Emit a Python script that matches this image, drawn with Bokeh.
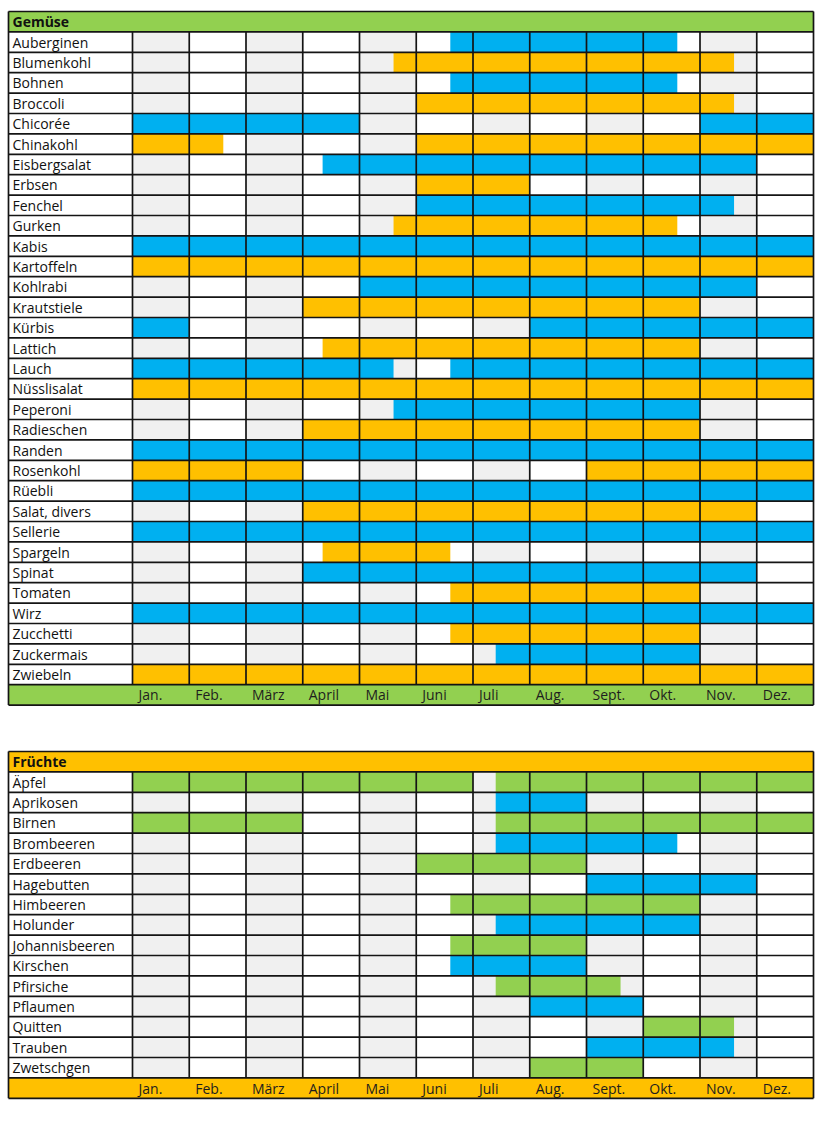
from bokeh.plotting import figure
from bokeh.models import Range1d, ColumnDataSource
from bokeh.embed import file_html
from bokeh.resources import INLINE
from bokeh.core.properties import value

# ---------------- data ----------------
months = ["Jan.", "Feb.", "März", "April", "Mai", "Juni",
          "Juli", "Aug.", "Sept.", "Okt.", "Nov.", "Dez."]

veg_title = "Gemüse"
veg_names = ["Auberginen", "Blumenkohl", "Bohnen", "Broccoli", "Chicorée",
             "Chinakohl", "Eisbergsalat", "Erbsen", "Fenchel", "Gurken",
             "Kabis", "Kartoffeln", "Kohlrabi", "Krautstiele", "Kürbis",
             "Lattich", "Lauch", "Nüsslisalat", "Peperoni", "Radieschen",
             "Randen", "Rosenkohl", "Rüebli", "Salat, divers", "Sellerie",
             "Spargeln", "Spinat", "Tomaten", "Wirz", "Zucchetti",
             "Zuckermais", "Zwiebeln"]
# season periods: (start month, end month, kind); months counted from 0 = start of Jan.
veg_periods = [
    [(5.6, 9.6, "b")],                  # Auberginen
    [(4.6, 10.6, "o")],                 # Blumenkohl
    [(5.6, 9.6, "b")],                  # Bohnen
    [(5.0, 10.6, "o")],                 # Broccoli
    [(0.0, 4.0, "b"), (10.0, 12.0, "b")],  # Chicorée
    [(0.0, 1.6, "o"), (5.0, 12.0, "o")],   # Chinakohl
    [(3.35, 11.0, "b")],                # Eisbergsalat
    [(5.0, 7.0, "o")],                  # Erbsen
    [(5.0, 10.6, "b")],                 # Fenchel
    [(4.6, 9.6, "o")],                  # Gurken
    [(0.0, 12.0, "b")],                 # Kabis
    [(0.0, 12.0, "o")],                 # Kartoffeln
    [(4.0, 11.0, "b")],                 # Kohlrabi
    [(3.0, 10.0, "o")],                 # Krautstiele
    [(0.0, 1.0, "b"), (7.0, 12.0, "b")],   # Kürbis
    [(3.35, 10.0, "o")],                # Lattich
    [(0.0, 4.6, "b"), (5.6, 12.0, "b")],   # Lauch
    [(0.0, 12.0, "o")],                 # Nüsslisalat
    [(4.6, 10.0, "b")],                 # Peperoni
    [(3.0, 10.0, "o")],                 # Radieschen
    [(0.0, 12.0, "b")],                 # Randen
    [(0.0, 3.0, "o"), (8.0, 12.0, "o")],   # Rosenkohl
    [(0.0, 12.0, "b")],                 # Rüebli
    [(3.0, 11.0, "o")],                 # Salat, divers
    [(0.0, 12.0, "b")],                 # Sellerie
    [(3.35, 5.6, "o")],                 # Spargeln
    [(3.0, 11.0, "b")],                 # Spinat
    [(5.6, 10.0, "o")],                 # Tomaten
    [(0.0, 12.0, "b")],                 # Wirz
    [(5.6, 10.0, "o")],                 # Zucchetti
    [(6.4, 10.0, "b")],                 # Zuckermais
    [(0.0, 12.0, "o")],                 # Zwiebeln
]

fruit_title = "Früchte"
fruit_names = ["Äpfel", "Aprikosen", "Birnen", "Brombeeren", "Erdbeeren",
               "Hagebutten", "Himbeeren", "Holunder", "Johannisbeeren",
               "Kirschen", "Pfirsiche", "Pflaumen", "Quitten", "Trauben",
               "Zwetschgen"]
fruit_periods = [
    [(0.0, 6.0, "g"), (6.4, 12.0, "g")],   # Äpfel
    [(6.4, 8.0, "b")],                  # Aprikosen
    [(0.0, 3.0, "g"), (6.4, 12.0, "g")],   # Birnen
    [(6.4, 9.6, "b")],                  # Brombeeren
    [(5.0, 8.0, "g")],                  # Erdbeeren
    [(8.0, 11.0, "b")],                 # Hagebutten
    [(5.6, 10.0, "g")],                 # Himbeeren
    [(6.4, 10.0, "b")],                 # Holunder
    [(5.6, 8.0, "g")],                  # Johannisbeeren
    [(5.6, 8.0, "b")],                  # Kirschen
    [(6.4, 8.6, "g")],                  # Pfirsiche
    [(7.0, 9.0, "b")],                  # Pflaumen
    [(9.0, 10.6, "g")],                 # Quitten
    [(8.0, 10.6, "b")],                 # Trauben
    [(7.0, 9.0, "g")],                  # Zwetschgen
]

# ---------------- style ----------------
KIND_COLORS = {"b": "#00B0F0", "o": "#FFC000", "g": "#92D050"}
GREEN = "#92D050"
ORANGE = "#FFC000"
STRIPE = ["#F0F0F0", "#FFFFFF"]
LINE = "#141414"
FONT = value("Open Sans")

W, H = 822, 1115
PXM = 56.75          # px per month
MONTH0_PX = 132      # x pixel of start of January
TABLE_LEFT_PX = 8
ROW = 20.4           # px per row
XL = -(MONTH0_PX - TABLE_LEFT_PX) / PXM   # left edge of table in month units
Y_TOP = -11 / ROW
Y_BOT = Y_TOP + H / ROW
LOWER_TOP = (751 - 11) / ROW

p = figure(width=W, height=H, output_backend="svg", toolbar_location=None,
           x_range=Range1d(-MONTH0_PX / PXM, (W - MONTH0_PX) / PXM),
           y_range=Range1d(Y_BOT, Y_TOP),
           x_axis_type=None, y_axis_type=None, min_border=0)
p.grid.visible = False
p.outline_line_color = None
p.background_fill_color = "white"
p.border_fill_color = "white"


def draw_table(top, title, names, periods, band_color):
    n = len(names)
    r0 = top + 1
    r1 = r0 + n
    # header and footer bands
    p.quad(left=[XL, XL], right=[12, 12], top=[top, r1], bottom=[r0, r1 + 1],
           fill_color=band_color, line_color=None)
    # label column
    p.quad(left=[XL], right=[0], top=[r0], bottom=[r1], fill_color="white", line_color=None)
    # month stripes
    p.quad(left=list(range(12)), right=[i + 1 for i in range(12)],
           top=[r0] * 12, bottom=[r1] * 12,
           fill_color=[STRIPE[i % 2] for i in range(12)], line_color=None)
    # season bars
    L, R, T, B, C = [], [], [], [], []
    for i, segs in enumerate(periods):
        for s, e, k in segs:
            L.append(s); R.append(e); T.append(r0 + i); B.append(r0 + i + 1)
            C.append(KIND_COLORS[k])
    p.quad(source=ColumnDataSource(dict(left=L, right=R, top=T, bottom=B, color=C)),
           left="left", right="right", top="top", bottom="bottom",
           fill_color="color", line_color=None)
    # horizontal grid lines
    ys = [top] + [r0 + i for i in range(n + 1)] + [r1 + 1]
    p.segment(x0=[XL] * len(ys), x1=[12] * len(ys), y0=ys, y1=ys,
              line_color=LINE, line_width=1.7)
    # vertical grid lines (label separator + month borders)
    xs = list(range(0, 12))
    p.segment(x0=xs, x1=xs, y0=[r0] * len(xs), y1=[r1] * len(xs),
              line_color=LINE, line_width=1.7)
    # outer border
    p.segment(x0=[XL, 12], x1=[XL, 12], y0=[top, top], y1=[r1 + 1, r1 + 1],
              line_color=LINE, line_width=1.7)
    # texts
    p.text(x=[XL], y=[top + 0.5], text=[title], x_offset=4,
           text_font=FONT, text_font_style="bold", text_font_size="14px",
           text_baseline="middle", text_align="left", text_color="#111111")
    p.text(x=[XL] * n, y=[r0 + i + 0.5 for i in range(n)], text=names, x_offset=4,
           text_font=FONT, text_font_size="14px",
           text_baseline="middle", text_align="left", text_color="#111111")
    p.text(x=list(range(12)), y=[r1 + 0.5] * 12, text=months, x_offset=6,
           text_font=FONT, text_font_size="14px",
           text_baseline="middle", text_align="left", text_color="#1E1E1E")


draw_table(0.0, veg_title, veg_names, veg_periods, GREEN)
draw_table(LOWER_TOP, fruit_title, fruit_names, fruit_periods, ORANGE)

open("out.html", "w").write(file_html(p, INLINE))
